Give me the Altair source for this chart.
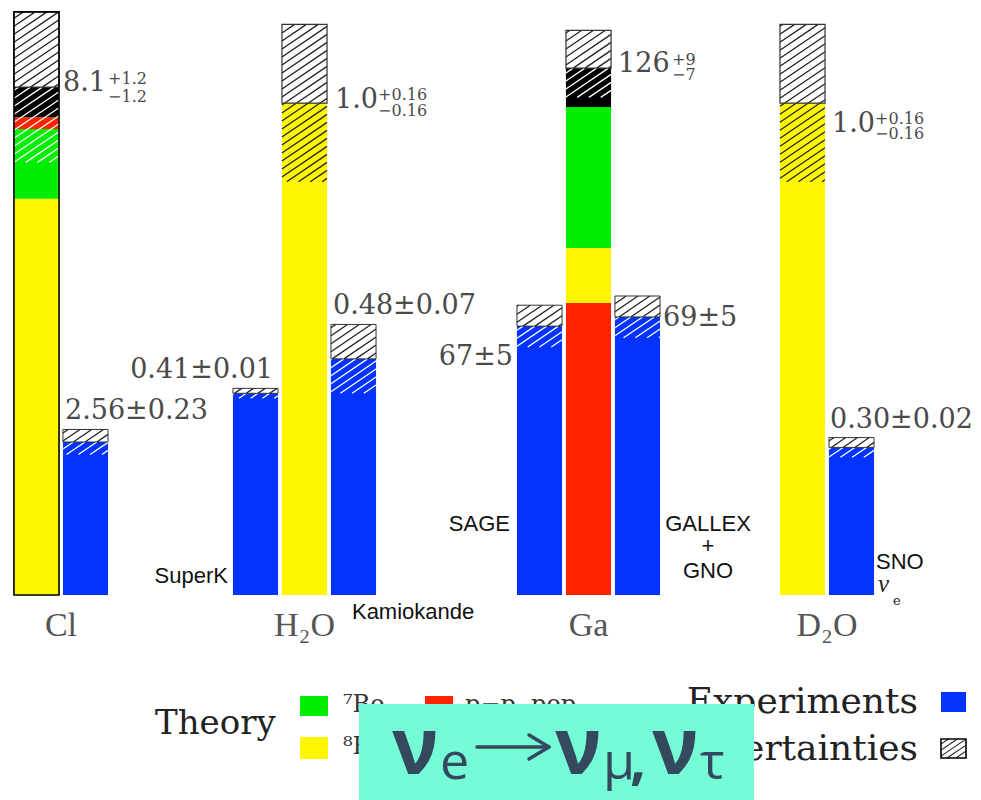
import math
import altair as alt
import pandas as pd

# ---------------- values ----------------
groups = ["Cl", "H₂O", "Ga", "D₂O"]
n_slots = [2, 3, 3, 2]
theory_slot = [0, 1, 1, 0]
theory_total = [8.1, 1.0, 126.0, 1.0]
theory_up = [1.2, 0.16, 9.0, 0.16]
theory_dn = [1.2, 0.16, 7.0, 0.16]
theory_main_txt = ["8.1", "1.0", "126", "1.0"]
theory_up_txt = ["+1.2", "+0.16", "+9", "+0.16"]
theory_dn_txt = ["−1.2", "−0.16", "−7", "−0.16"]

# theory contributions, stacked bottom to top
part_names = [["8B", "7Be", "pp", "CNO"], ["8B"], ["pp", "8B", "7Be", "CNO"], ["8B"]]
part_values = [[6.32, 1.11, 0.19, 0.48], [1.0], [69.8, 13.2, 33.7, 9.3], [1.0]]

exp_group = [0, 1, 1, 2, 2, 3]
exp_slot = [1, 0, 2, 0, 2, 1]
exp_value = [2.44, 0.41, 0.48, 64.3, 66.5, 0.30]
exp_err = [0.20, 0.01, 0.07, 5.0, 5.0, 0.02]
exp_txt = ["2.56±0.23", "0.41±0.01", "0.48±0.07", "67±5", "69±5", "0.30±0.02"]
exp_names = [[], ["SuperK"], ["Kamiokande"], ["SAGE"], ["GALLEX", "+", "GNO"], ["SNO"]]

legend_theory_parts = ["7Be", "8B", "pp", "CNO"]
legend_theory_labels = ["⁷Be", "⁸B", "p−p, pep", "CNO"]

# ---------------- styling / layout ----------------
part_color = {"8B": "#FFF700", "7Be": "#00EE00", "pp": "#FF2200", "CNO": "#000000"}
hatch_on = {"8B": "#222222", "7Be": "white", "pp": "white", "CNO": "white"}
EXP_COLOR = "#0433FF"
DARK = "#222222"
BOX = "#333333"
NUM_COLOR = "#4a4a4a"
SERIF = "DejaVu Serif"

PANEL_H = 580
STEP = 49
HALF = 0.46
GAP = 116
y_max = [9.25, 1.179, 138.7, 1.179]
pad_left = [0, 5, 21, 0]
theory_outline = [True, False, False, False]

# (dx_main, dy_main, dx_sup, dy_sup, dy_sub) in px
theory_lbl = [(4, -4, 49, -8, 10), (8, -3, 51, -8, 8), (7, -4, 61, -8, 7), (7, 21, 50, 16, 31)]
# (edge, level, align, dx, dy)
exp_lbl = [("left", "top", "left", 2, -18), ("right", "top", "right", -5, -18),
           ("left", "top", "left", 2, -18), ("left", "value", "right", -4, 31),
           ("right", "value", "left", 3, 1), ("left", "top", "left", 1, -18)]
# (edge, align, dx, dys)
name_lbl = [None, ("left", "right", -5, [-19]), ("left", "left", 21, [17]),
            ("left", "right", -7, [-71]), ("right", "center", 48, [-71, -49, -24]),
            ("right", "left", 2, [-33])]


def seg_rows(x0, x1, y0, y1, sx, sy, color, spacing=8.0, slope=0.68):
    X0, X1, Y0, Y1 = x0 * sx, x1 * sx, y0 * sy, y1 * sy
    cmin, cmax = Y0 - slope * X1, Y1 - slope * X0
    k = math.ceil(cmin / spacing)
    out = []
    while k * spacing < cmax:
        c = k * spacing
        xa = max(X0, (Y0 - c) / slope)
        xb = min(X1, (Y1 - c) / slope)
        if xb - xa > 0.6:
            out.append({"x": xa / sx, "y": (slope * xa + c) / sy,
                        "x2": xb / sx, "y2": (slope * xb + c) / sy, "c": color})
        k += 1
    return out


def T(x, y, text, font=SERIF, size=27, color=NUM_COLOR, align="left",
      baseline="middle", style="normal", weight="normal"):
    return dict(x=x, y=y, text=text, font=font, size=size, color=color, align=align,
                baseline=baseline, style=style, weight=weight)


def build_layers(fills, lines, outlines, texts, xs, ys, line_w=1.3):
    X = lambda: alt.X("x:Q", scale=xs, axis=None)
    Y = lambda: alt.Y("y:Q", scale=ys, axis=None)
    layers = []
    if fills:
        layers.append(alt.Chart(pd.DataFrame(fills)).mark_rect().encode(
            x=X(), x2="x2:Q", y=Y(), y2="y2:Q", fill=alt.Fill("c:N", scale=None)))
    if lines:
        layers.append(alt.Chart(pd.DataFrame(lines)).mark_rule(strokeWidth=line_w).encode(
            x=X(), x2="x2:Q", y=Y(), y2="y2:Q", color=alt.Color("c:N", scale=None)))
    if outlines:
        layers.append(alt.Chart(pd.DataFrame(outlines)).mark_rect(filled=False).encode(
            x=X(), x2="x2:Q", y=Y(), y2="y2:Q", stroke=alt.Stroke("c:N", scale=None),
            strokeWidth=alt.StrokeWidth("w:Q", scale=None)))
    if texts:
        df = pd.DataFrame(texts)
        keys = ["font", "size", "color", "align", "baseline", "style", "weight"]
        for key, sub in df.groupby(keys, sort=False):
            kw = dict(zip(keys, key))
            layers.append(alt.Chart(sub[["x", "y", "text"]]).mark_text(
                font=kw["font"], fontSize=float(kw["size"]), color=kw["color"],
                align=kw["align"], baseline=kw["baseline"], fontStyle=kw["style"],
                fontWeight=kw["weight"]).encode(x=X(), y=Y(), text="text:N"))
    return layers


# ---------------- legend + overlay (page-pixel coordinates) ----------------
OX, OY = 12, 11
lxs = alt.Scale(domain=[OX, OX + n_slots[0] * STEP + pad_left[0]], nice=False, zero=False)
lys = alt.Scale(domain=[OY, OY + PANEL_H], nice=False, zero=False, reverse=True)

swatch_pos = [(300, 328, 692, 712), (300, 328, 733, 755), (425, 453, 692, 712), (425, 453, 733, 755)]
label_pos = [(343, 701), (343, 743), (465, 701), (465, 743)]
lfills, llines, louts, ltexts = [], [], [], []
for nm, (x0, x1, y0, y1) in zip(legend_theory_parts, swatch_pos):
    lfills.append(dict(x=x0, x2=x1, y=y0, y2=y1, c=part_color[nm]))
for lab, (x, y) in zip(legend_theory_labels, label_pos):
    ltexts.append(T(x, y, lab, size=24, color="#333333"))
ltexts.append(T(155, 720, "Theory", size=34, color="#222222"))
ltexts.append(T(918, 698, "Experiments", size=36, color="#222222", align="right"))
ltexts.append(T(918, 745, "Uncertainties", size=36, color="#222222", align="right"))
lfills.append(dict(x=941, x2=966, y=688, y2=708, c=EXP_COLOR))
lfills.append(dict(x=941, x2=966, y=735, y2=754, c="white"))
for r in seg_rows(941, 966, -754, -735, 1, 1, DARK, spacing=6.0):
    llines.append(dict(x=r["x"], x2=r["x2"], y=-r["y"], y2=-r["y2"], c=r["c"]))
louts.append(dict(x=941, x2=966, y=735, y2=754, c="black", w=1.6))

OVERLAY = "#76FBD7"
INK = "#34495E"
lfills_over = [dict(x=359, x2=754, y=700, y2=800, c=OVERLAY)]
arrow = [dict(x=477, x2=548, y=743, y2=743, c=INK), dict(x=529, x2=549, y=731, y2=743, c=INK),
         dict(x=529, x2=549, y=755, y2=743, c=INK)]
cap = [("ν", 392, 770, 78, "bold"), ("e", 440, 775, 52, "normal"), ("ν", 555, 770, 78, "bold"),
       ("μ", 603, 775, 52, "normal"), (",", 630, 775, 56, "bold"), ("ν", 652, 770, 78, "bold"),
       ("τ", 700, 775, 52, "normal")]
cap_texts = [T(x, y, t, font="Open Sans", size=s, color=INK, baseline="alphabetic", weight=w)
             for t, x, y, s, w in cap]

legend_layers = build_layers(lfills, llines, louts, ltexts, lxs, lys, line_w=1.1)
legend_layers += build_layers(lfills_over, [], [], [], lxs, lys)
legend_layers.append(alt.Chart(pd.DataFrame(arrow)).mark_rule(strokeWidth=3.5, strokeCap="round").encode(
    x=alt.X("x:Q", scale=lxs, axis=None), x2="x2:Q", y=alt.Y("y:Q", scale=lys, axis=None), y2="y2:Q",
    color=alt.Color("c:N", scale=None)))
legend_layers += build_layers([], [], [], cap_texts, lxs, lys)
legend = alt.layer(*legend_layers)

# ---------------- panels ----------------
panels = []
for g in range(4):
    sy = PANEL_H / y_max[g]
    lo = -0.5 - pad_left[g] / STEP
    hi = n_slots[g] - 0.5
    W = n_slots[g] * STEP + pad_left[g]
    xs = alt.Scale(domain=[lo, hi], nice=False, zero=False)
    ys = alt.Scale(domain=[0, y_max[g]], nice=False, zero=False)
    fills, lines, outlines, texts = [], [], [], []

    ts = theory_slot[g]
    bl, br = ts - HALF, ts + HALF
    base = 0.0
    for nm, v in zip(part_names[g], part_values[g]):
        fills.append(dict(x=bl, x2=br, y=base, y2=base + v, c=part_color[nm]))
        base += v
    tot, up, dn = theory_total[g], theory_up[g], theory_dn[g]
    fills.append(dict(x=bl, x2=br, y=tot, y2=tot + up, c="white"))
    lines += seg_rows(bl, br, tot - dn, tot, STEP, sy, hatch_on[part_names[g][-1]])
    lines += seg_rows(bl, br, tot, tot + up, STEP, sy, DARK)
    outlines.append(dict(x=bl, x2=br, y=tot, y2=tot + up, c=BOX, w=1.2))
    if theory_outline[g]:
        outlines.append(dict(x=bl, x2=br, y=0, y2=tot + up, c="black", w=1.6))
    dxm, dym, dxs, dys, dyd = theory_lbl[g]
    texts.append(T(br + dxm / STEP, tot - dym / sy, theory_main_txt[g]))
    texts.append(T(br + dxs / STEP, tot - dys / sy, theory_up_txt[g], size=16))
    texts.append(T(br + dxs / STEP, tot - dyd / sy, theory_dn_txt[g], size=16))

    for i in range(len(exp_value)):
        if exp_group[i] != g:
            continue
        s, v, e = exp_slot[i], exp_value[i], exp_err[i]
        el, er = s - HALF, s + HALF
        fills.append(dict(x=el, x2=er, y=0, y2=v, c=EXP_COLOR))
        fills.append(dict(x=el, x2=er, y=v, y2=v + e, c="white"))
        lines += seg_rows(el, er, v - e, v, STEP, sy, "white")
        lines += seg_rows(el, er, v, v + e, STEP, sy, DARK)
        outlines.append(dict(x=el, x2=er, y=v, y2=v + e, c=BOX, w=1.0))
        edge, level, align, dx, dy = exp_lbl[i]
        ax = el if edge == "left" else er
        ay = v + e if level == "top" else v
        texts.append(T(ax + dx / STEP, ay - dy / sy, exp_txt[i], align=align))
        if name_lbl[i]:
            nedge, nalign, ndx, ndys = name_lbl[i]
            nx = el if nedge == "left" else er
            for line_txt, ndy in zip(exp_names[i], ndys):
                texts.append(T(nx + ndx / STEP, -ndy / sy, line_txt, font="Liberation Sans",
                               size=22, color="#111111", align=nalign))
        if exp_names[i] == ["SNO"]:
            texts.append(T(er + 4 / STEP, 11 / sy, "ν", font="Liberation Serif", size=25,
                           color="#222222", style="italic"))
            texts.append(T(er + 19 / STEP, -6 / sy, "e", font=SERIF, size=13, color="#222222"))

    texts.append(T((n_slots[g] - 1) / 2, -31 / sy, groups[g], font="Liberation Serif",
                   size=34, color="#555555", align="center"))

    panel = alt.layer(*build_layers(fills, lines, outlines, texts, xs, ys))
    if g == 0:
        panel = alt.layer(panel, legend).resolve_scale(x="independent", y="independent")
    panels.append(panel.properties(width=W, height=PANEL_H))

chart = (alt.hconcat(*panels, spacing=GAP, bounds="flush")
         .properties(padding={"left": 4, "top": 3, "right": 0, "bottom": 0})
         .configure_view(stroke=None))

chart.save("out.html", embed_options={"renderer": "svg", "actions": False})
